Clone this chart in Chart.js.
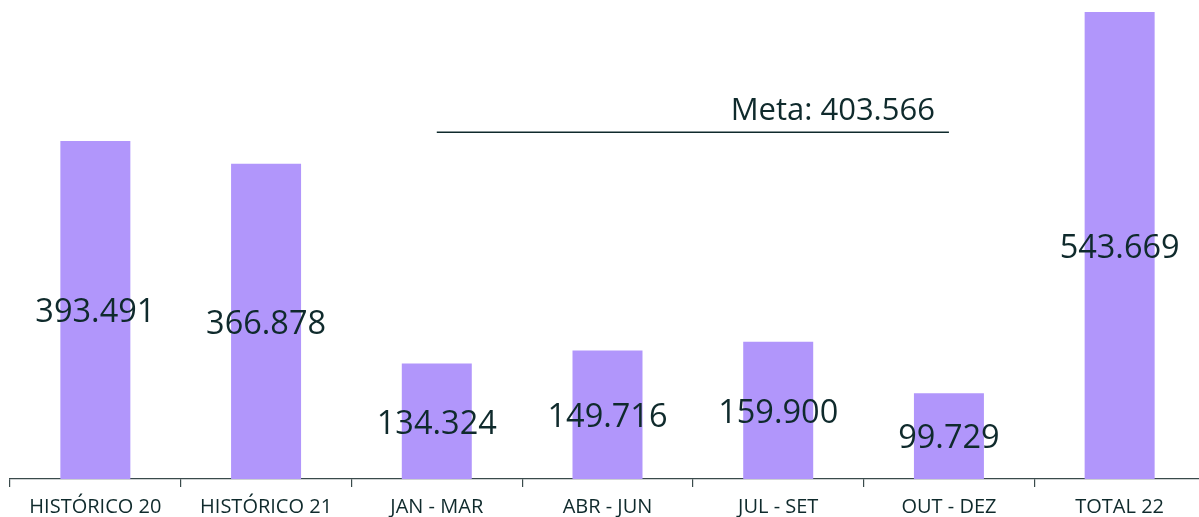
<!DOCTYPE html>
<html>
<head>
<meta charset="utf-8">
<script src="https://cdn.jsdelivr.net/npm/chart.js@4"></script>
<style>
  html, body { margin: 0; padding: 0; background: #fff; overflow: hidden; }
  #wrap { width: 1205px; height: 517px; overflow: hidden; }
</style>
</head>
<body>
<div id="wrap"><canvas id="chart" width="1205" height="527"></canvas></div>
<script>
const TEXT_COLOR = "#0f2a2c";
const BAR_COLOR = "#b196fb";

const categories = ["HISTÓRICO 20", "HISTÓRICO 21", "JAN - MAR", "ABR - JUN", "JUL - SET", "OUT - DEZ", "TOTAL 22"];
const values = [393491, 366878, 134324, 149716, 159900, 99729, 543669];
const metaValue = 403566;
const metaFrom = 2;
const metaTo = 5;

function formatBR(v) {
  return Number(v).toLocaleString("pt-BR");
}

const barLabels = {
  id: "barLabels",
  afterDatasetsDraw(chart) {
    const ctx = chart.ctx;
    const meta = chart.getDatasetMeta(0);
    ctx.save();
    ctx.font = '32.5px "Open Sans"';
    ctx.fillStyle = TEXT_COLOR;
    ctx.textAlign = "center";
    ctx.textBaseline = "middle";
    meta.data.forEach((bar, i) => {
      const mid = (bar.y + bar.base) / 2 + 3;
      ctx.fillText(formatBR(values[i]), bar.x, mid);
    });
    ctx.restore();
  },
};

const metaLine = {
  id: "metaLine",
  afterDatasetsDraw(chart) {
    const { ctx, scales } = chart;
    const y = scales.y.getPixelForValue(metaValue);
    const x1 = scales.x.getPixelForValue(metaFrom);
    const x2 = scales.x.getPixelForValue(metaTo);
    ctx.save();
    ctx.strokeStyle = TEXT_COLOR;
    ctx.lineWidth = 1.5;
    ctx.beginPath();
    ctx.moveTo(x1, y);
    ctx.lineTo(x2, y);
    ctx.stroke();
    ctx.font = '31px "Open Sans"';
    ctx.fillStyle = TEXT_COLOR;
    ctx.textAlign = "right";
    ctx.textBaseline = "alphabetic";
    ctx.fillText(`Meta: ${formatBR(metaValue)}`, x2 - 14, y - 12);
    ctx.restore();
  },
};

new Chart(document.getElementById("chart"), {
  type: "bar",
  data: {
    labels: categories,
    datasets: [{
      data: values,
      backgroundColor: BAR_COLOR,
      borderWidth: 0,
      categoryPercentage: 1,
      barPercentage: 0.41,
    }],
  },
  options: {
    responsive: false,
    animation: false,
    layout: { padding: { left: 10, right: 0, top: 12, bottom: 0 } },
    plugins: { legend: { display: false }, tooltip: { enabled: false } },
    scales: {
      x: {
        grid: {
          offset: true,
          drawOnChartArea: false,
          drawTicks: true,
          tickLength: 8,
          color: "#3a4a4b",
          lineWidth: 1.2,
        },
        border: { display: true, color: "#3a4a4b", width: 1.2 },
        ticks: {
          color: TEXT_COLOR,
          font: { family: "Open Sans", size: 20 },
          padding: 8,
          maxRotation: 0,
          autoSkip: false,
        },
      },
      y: {
        display: false,
        min: 0,
        max: 543669,
      },
    },
  },
  plugins: [barLabels, metaLine],
});
</script>
</body>
</html>
